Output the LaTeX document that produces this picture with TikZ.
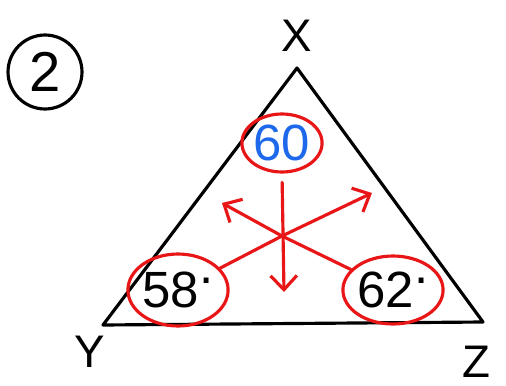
\documentclass[tikz,border=0pt]{standalone}
\usepackage{fontspec}
\setmainfont{Liberation Sans}
\usetikzlibrary{arrows.meta, shapes.geometric, positioning}
\definecolor{MarkRed}{RGB}{232,22,22}
\definecolor{InkBlue}{RGB}{30,105,235}

\begin{document}
\begin{tikzpicture}[
  x=0.02cm, y=-0.02cm,
  ink/.style={line width=1.8pt, line join=round, line cap=round},
  redline/.style={draw=MarkRed, line width=1.8pt, line cap=round},
  redarrow/.style={redline, -{Straight Barb[length=8pt, width=15pt, line width=1.8pt]}},
  ring/.style={draw=MarkRed, ellipse, line width=1.8pt, inner sep=0pt},
  lbl/.style={font=\fontsize{26}{28}\selectfont},
  numtext/.style={font=\fontsize{29}{31}\selectfont}
]
\useasboundingbox (0,0) rectangle (506,385);

% triangle
\coordinate (X) at (297,68);
\coordinate (Y) at (103,325);
\coordinate (Z) at (483,322);
\draw[ink] (X) -- (Y) -- (Z) -- cycle;

\node[lbl] (labx) at (297,36) {X};
\node[lbl] (laby) at (90,352) {Y};
\node[lbl] (labz) at (476,362) {Z};

\node[
  draw,
  circle,
  line width=1.8pt,
  minimum size=1.48cm,
  font=\fontsize{32}{34}\selectfont
] (num) at (45,72) {2};

% angles
\node[
  ring,
  numtext,
  minimum width=1.56cm,
  minimum height=1.16cm,
  text=InkBlue
] (c60) at (282,143) {60};
\node[
  ring,
  numtext,
  minimum width=2.0cm,
  minimum height=1.44cm
] (c58) at (178,290) {58\raisebox{0.9ex}{.}};
\node[
  ring,
  numtext,
  minimum width=1.84cm,
  minimum height=1.36cm
] (c62) at (393,290) {62\raisebox{0.9ex}{.}};

% star
\coordinate (ctr) at (282,236);
\coordinate (dn) at (284,292);
\coordinate (ul) at (222,203);
\coordinate (ur) at (372,193);
\draw[redarrow, shorten <=5pt] (c60.south) -- (dn);
\draw[redarrow] (ctr) -- (ul);
\draw[redarrow] (ctr) -- (ur);
\draw[redline] (ctr) -- (c58);
\draw[redline] (ctr) -- (c62);
\end{tikzpicture}
\end{document}
